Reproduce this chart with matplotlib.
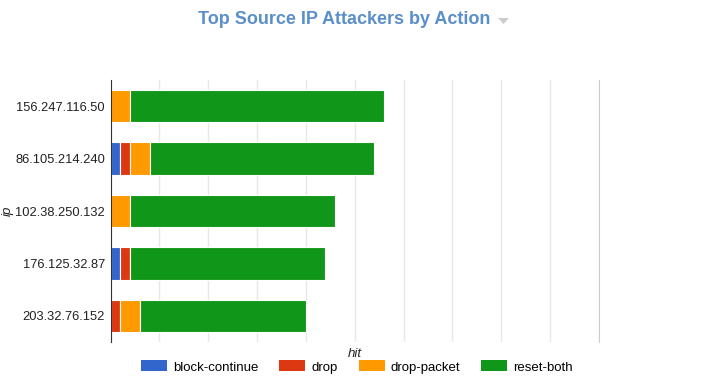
import numpy as np
import matplotlib.pyplot as plt
from matplotlib.patches import Patch, Polygon

plt.rcParams['font.family'] = ['Liberation Sans', 'DejaVu Sans']

# data
ips = ['156.247.116.50', '86.105.214.240', '102.38.250.132', '176.125.32.87', '203.32.76.152']
actions = ['block-continue', 'drop', 'drop-packet', 'reset-both']
block_continue = [0, 1, 0, 1, 0]
drop = [0, 1, 0, 1, 1]
drop_packet = [2, 2, 2, 0, 2]
reset_both = [26, 23, 21, 20, 17]
colors = ['#3366cc', '#dc3912', '#ff9900', '#109618']

W, H = 711, 379
fig = plt.figure(figsize=(W / 100, H / 100), dpi=100)
ax = fig.add_axes([110.5 / W, 1 - 342 / H, (599 - 110.5) / W, (342 - 80) / H])

y = np.arange(len(ips))
left = np.zeros(len(ips))
for vals, c in zip([block_continue, drop, drop_packet, reset_both], colors):
    vals = np.array(vals)
    ax.barh(y, vals, left=left, height=0.62, color=c, edgecolor='white', linewidth=0.8)
    left += vals

ax.set_xlim(0, 50)
ax.set_ylim(4.5, -0.5)
ax.set_yticks(y)
ax.set_yticklabels(ips, fontsize=9.3, color='#222222')
ax.set_xticks(np.arange(0, 51, 5))
ax.set_xticklabels([])
ax.tick_params(length=0, pad=4)
ax.grid(axis='x', color='#e8e8e8', linewidth=1)
ax.set_axisbelow(True)
for s in ['top', 'bottom']:
    ax.spines[s].set_visible(False)
ax.spines['right'].set_color('#cccccc')
ax.spines['left'].set_color('#333333')

ax.set_xlabel('hit', fontsize=9.5, style='italic', color='#222222', labelpad=0)
ax.set_ylabel('ip', fontsize=9.5, style='italic', color='#222222')
ax.yaxis.set_label_coords((14 - 110.5) / 488.5, 0.5)

fig.text(344.5 / W, 1 - 20 / H, 'Top Source IP Attackers by Action', fontsize=13,
         fontweight='bold', color='#5b8fc9', ha='center', va='center')
# little dropdown triangle next to the title
tri = Polygon([(498 / W, 1 - 18 / H), (509 / W, 1 - 18 / H), (503.5 / W, 1 - 24 / H)],
              closed=True, facecolor='#cccccc', edgecolor='none', transform=fig.transFigure)
fig.patches.append(tri)

handles = [Patch(facecolor=c, label=a) for c, a in zip(colors, actions)]
fig.legend(handles=handles, loc='center', bbox_to_anchor=(357 / W, 1 - 367 / H), ncol=4,
           frameon=False, fontsize=9.5, handlelength=1.97, handleheight=0.9, handletextpad=0.45,
           columnspacing=1.6, borderaxespad=0, borderpad=0)

fig.savefig('out.png', dpi=100)
